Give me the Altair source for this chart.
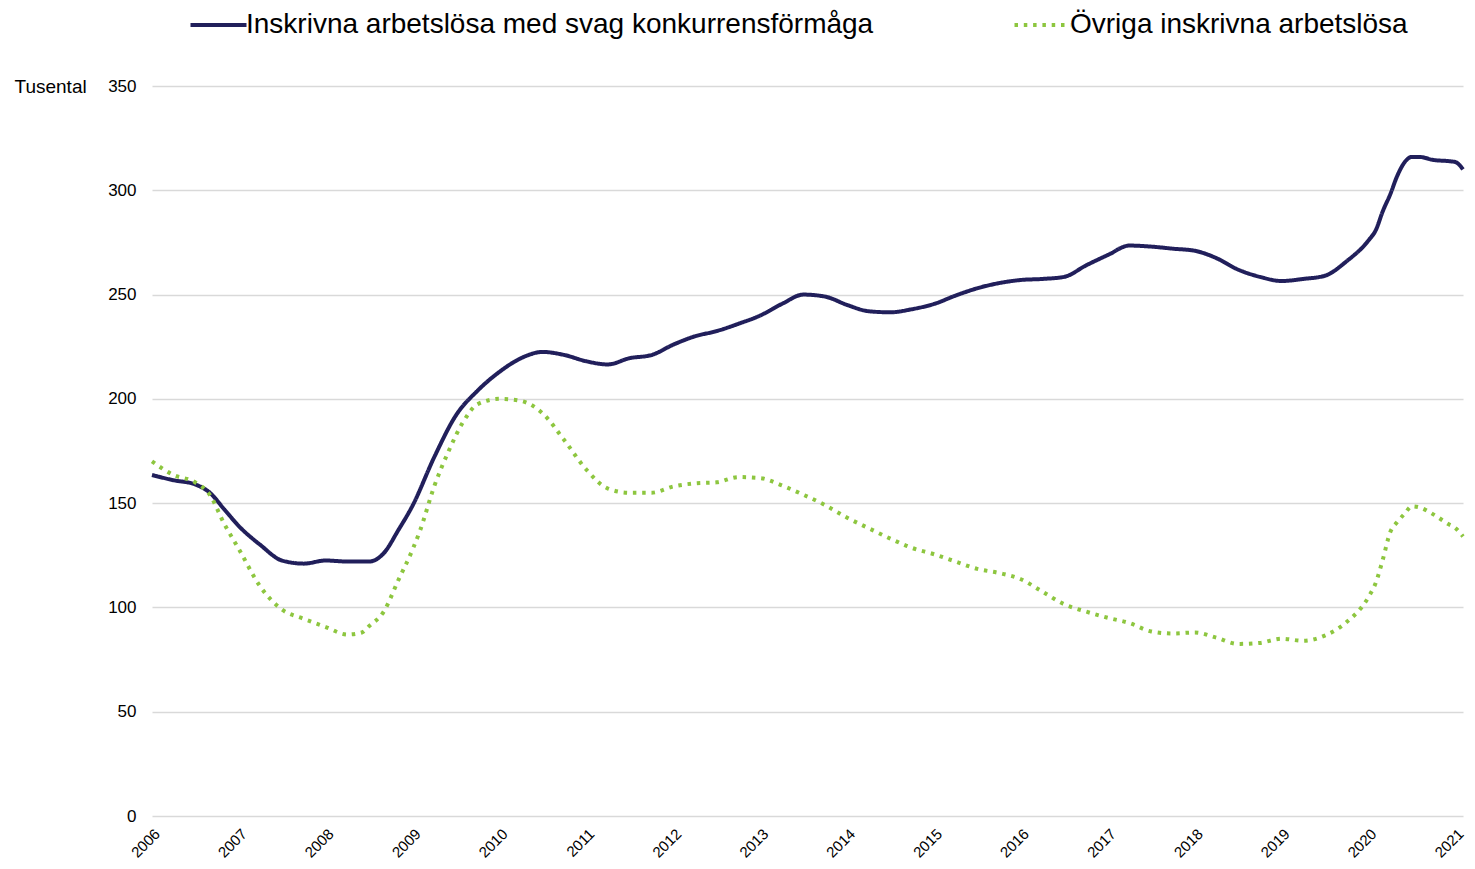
import altair as alt
import pandas as pd

S1 = "Inskrivna arbetslösa med svag konkurrensförmåga"
S2 = "Övriga inskrivna arbetslösa"

dates_1 = ["2006-01", "2006-04", "2006-07", "2006-09", "2006-11", "2007-01", "2007-04", "2007-07", "2007-10",
           "2008-01", "2008-04", "2008-07", "2008-09", "2008-11", "2009-01", "2009-04", "2009-07", "2009-10",
           "2010-01", "2010-04", "2010-07", "2010-10", "2011-01", "2011-04", "2011-07", "2011-10",
           "2012-01", "2012-04", "2012-07", "2012-10", "2013-01", "2013-04", "2013-07", "2013-10",
           "2014-01", "2014-04", "2014-07", "2014-10", "2015-01", "2015-04", "2015-07", "2015-10",
           "2016-01", "2016-04", "2016-07", "2016-10", "2017-01", "2017-04", "2017-07", "2017-10",
           "2018-01", "2018-04", "2018-07", "2018-10", "2019-01", "2019-04", "2019-07", "2019-10",
           "2020-01", "2020-02", "2020-03", "2020-04", "2020-05", "2020-06", "2020-07", "2020-08",
           "2020-10", "2020-12", "2021-01", "2021-02"]
values_1 = [163.5, 161, 159, 155, 147, 139, 130, 122.5, 121,
            122.5, 122, 122, 126, 137, 149, 172, 192, 204,
            213, 219.5, 222.5, 221, 218, 216.5, 219.5, 221,
            226, 230, 232.5, 236, 240, 245.5, 250, 249,
            245, 242, 241.5, 243, 245.5, 249.5, 253, 255.5,
            257, 257.5, 258.5, 264, 269, 273.5, 273, 272,
            271, 267.5, 262, 258.5, 256.5, 257.5, 259, 266,
            276, 281, 290, 298, 307, 313.5, 316, 316,
            314.5, 314, 313.5, 310]

dates_2 = ["2006-01", "2006-04", "2006-07", "2006-09", "2006-11", "2007-01", "2007-04", "2007-07", "2007-10",
           "2008-01", "2008-04", "2008-06", "2008-07", "2008-09", "2008-11", "2009-01", "2009-02", "2009-04",
           "2009-06", "2009-08", "2009-10", "2010-01", "2010-04", "2010-07", "2010-10",
           "2011-01", "2011-04", "2011-07", "2011-10", "2012-01", "2012-04", "2012-07", "2012-10",
           "2013-01", "2013-04", "2013-07", "2013-10", "2014-01", "2014-04", "2014-07", "2014-10",
           "2015-01", "2015-04", "2015-07", "2015-10", "2016-01", "2016-04", "2016-07", "2016-10",
           "2017-01", "2017-04", "2017-07", "2017-10", "2018-01", "2018-04", "2018-07", "2018-10",
           "2019-01", "2019-04", "2019-07", "2019-10", "2020-01", "2020-02", "2020-03", "2020-04",
           "2020-05", "2020-06", "2020-07", "2020-08", "2020-10", "2020-12", "2021-01", "2021-02"]
values_2 = [170, 163.5, 160, 154, 140, 128, 110, 99, 94.5,
            90.6, 87, 88, 91, 98, 113, 128, 137, 158,
            175, 189, 197.5, 200, 199, 193, 180,
            166, 157, 155, 155, 158, 159.5, 160, 162.5,
            162, 158.5, 154, 149, 143, 138, 133, 128.5,
            125.5, 122, 118.5, 116.5, 113.5, 107.5, 101.5, 98,
            95, 92.5, 88.5, 87.5, 88, 85.5, 82.5, 83,
            85, 84, 86.5, 93, 105, 112, 123, 136,
            141, 145, 148.5, 148, 144.5, 140, 138, 134]

colors = ["#211f5b", "#8dc63f"]
dashes = [[1, 0], [3.5, 5.8]]

df = pd.concat([
    pd.DataFrame({"date": dates_1, "value": values_1, "serie": S1}),
    pd.DataFrame({"date": dates_2, "value": values_2, "serie": S2}),
])

# legend key: a 56px line drawn from a small symbol (size 49 -> unit = 3.5px)
legend = alt.Legend(
    title=None, orient="none", direction="horizontal", legendX=28, legendY=-75,
    symbolType="M-1,0H15", symbolSize=49, symbolStrokeWidth=4,
    labelFontSize=28, labelFont="Liberation Sans", labelColor="#000000",
    labelLimit=2000, labelOffset=38, columnPadding=130, padding=0,
)

chart = alt.Chart(df).mark_line(strokeWidth=4, interpolate="monotone").encode(
    x=alt.X("date:T",
            scale=alt.Scale(domain=["2006-01-01", "2021-02-01"], nice=False),
            axis=alt.Axis(title=None, format="%Y", tickCount={"interval": "year", "step": 1},
                          labelAngle=-45, labelAlign="right", labelBaseline="top",
                          labelFontSize=15, labelFont="Liberation Sans",
                          labelColor="#000000", domain=False, ticks=False, grid=False,
                          labelPadding=10)),
    y=alt.Y("value:Q",
            scale=alt.Scale(domain=[0, 350], nice=False),
            axis=alt.Axis(title="Tusental", titleAngle=0, titleX=-138, titleY=0,
                          titleAlign="left", titleBaseline="middle", titleFontSize=19,
                          titleFontWeight="normal", titleFont="Liberation Sans", titleColor="#000000",
                          values=[0, 50, 100, 150, 200, 250, 300, 350],
                          labelFontSize=17, labelFont="Liberation Sans", labelColor="#000000",
                          domain=False, ticks=False, labelPadding=16,
                          gridColor="#d9d9d9", gridWidth=1.3)),
    color=alt.Color("serie:N", scale=alt.Scale(domain=[S1, S2], range=colors), legend=legend),
    strokeDash=alt.StrokeDash("serie:N", scale=alt.Scale(domain=[S1, S2], range=dashes), legend=legend),
).properties(
    width=1311, height=730,
    autosize=alt.AutoSizeParams(type="none"),
    padding={"left": 144, "top": 78, "right": 4, "bottom": 45},
).configure_view(stroke=None)

chart.save("out.html", embed_options={"renderer": "svg", "actions": False})
